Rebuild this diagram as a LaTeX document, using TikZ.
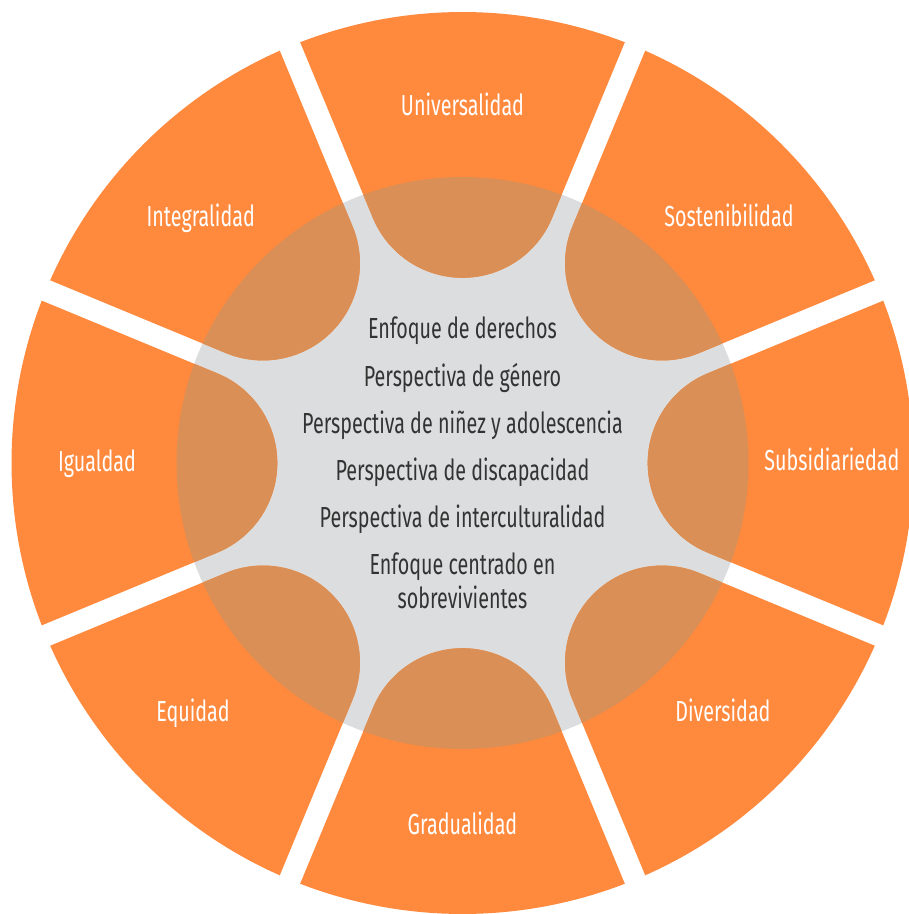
\documentclass[tikz,border=0pt]{standalone}
\usepackage{fontspec}
\setmainfont{Fira Sans}[FakeStretch=0.68]
\usetikzlibrary{calc}
\definecolor{petalorange}{HTML}{FF893D}
\definecolor{hubgray}{HTML}{DCDDDE}
\definecolor{hubover}{HTML}{D98F55}
\definecolor{hubink}{HTML}{333333}
\tikzset{
  petallabel/.style={text=white, anchor=base, font=\fontsize{8.25}{9}\selectfont},
  hubtext/.style={text=hubink, align=center, font=\fontsize{8.25}{9.7}\selectfont}
}
% one petal pointing to 0 degrees, rounded inner end
\newcommand{\petal}{(0:2.822) ++(112.5:0.97) -- (21.1:4.51)
  arc[start angle=21.1, end angle=-21.1, radius=4.51]
  -- ($(0:2.822)+(-112.5:0.97)$)
  arc[start angle=-112.5, end angle=-247.5, radius=0.97] -- cycle}
\begin{document}
\begin{tikzpicture}
\useasboundingbox (0,0) rectangle (9.08,9.14);
\coordinate (C) at (4.625,4.51);
\fill[hubgray] (C) circle (2.86);
\foreach \a in {0,45,...,315}
  \fill[petalorange, shift={(C)}, rotate=\a] \petal;
\begin{scope}
\clip (C) circle (2.86);
\foreach \a in {0,45,...,315}
  \fill[hubover, shift={(C)}, rotate=\a] \petal;
\end{scope}
% labels, placed by their baselines
\foreach \n/\x/\y/\txt in {univ/0/3.48/Universalidad, sost/2.665/2.363/Sostenibilidad,
    subs/3.695/-0.07/Subsidiariedad, dive/2.605/-2.587/Diversidad,
    grad/0/-3.71/Gradualidad, equi/-2.695/-2.587/Equidad,
    igua/-3.655/-0.08/Igualdad, inte/-2.618/2.37/Integralidad}
  \node[petallabel] (\n) at ($(C)+(\x,\y)$) {\txt};
\node[hubtext] (hub) at (C) {Enfoque de derechos\\[3.7pt]
  Perspectiva de género\\[3.7pt]
  Perspectiva de niñez y adolescencia\\[3.7pt]
  Perspectiva de discapacidad\\[3.7pt]
  Perspectiva de interculturalidad\\[3.7pt]
  Enfoque centrado en\\ sobrevivientes};
\end{tikzpicture}
\end{document}
